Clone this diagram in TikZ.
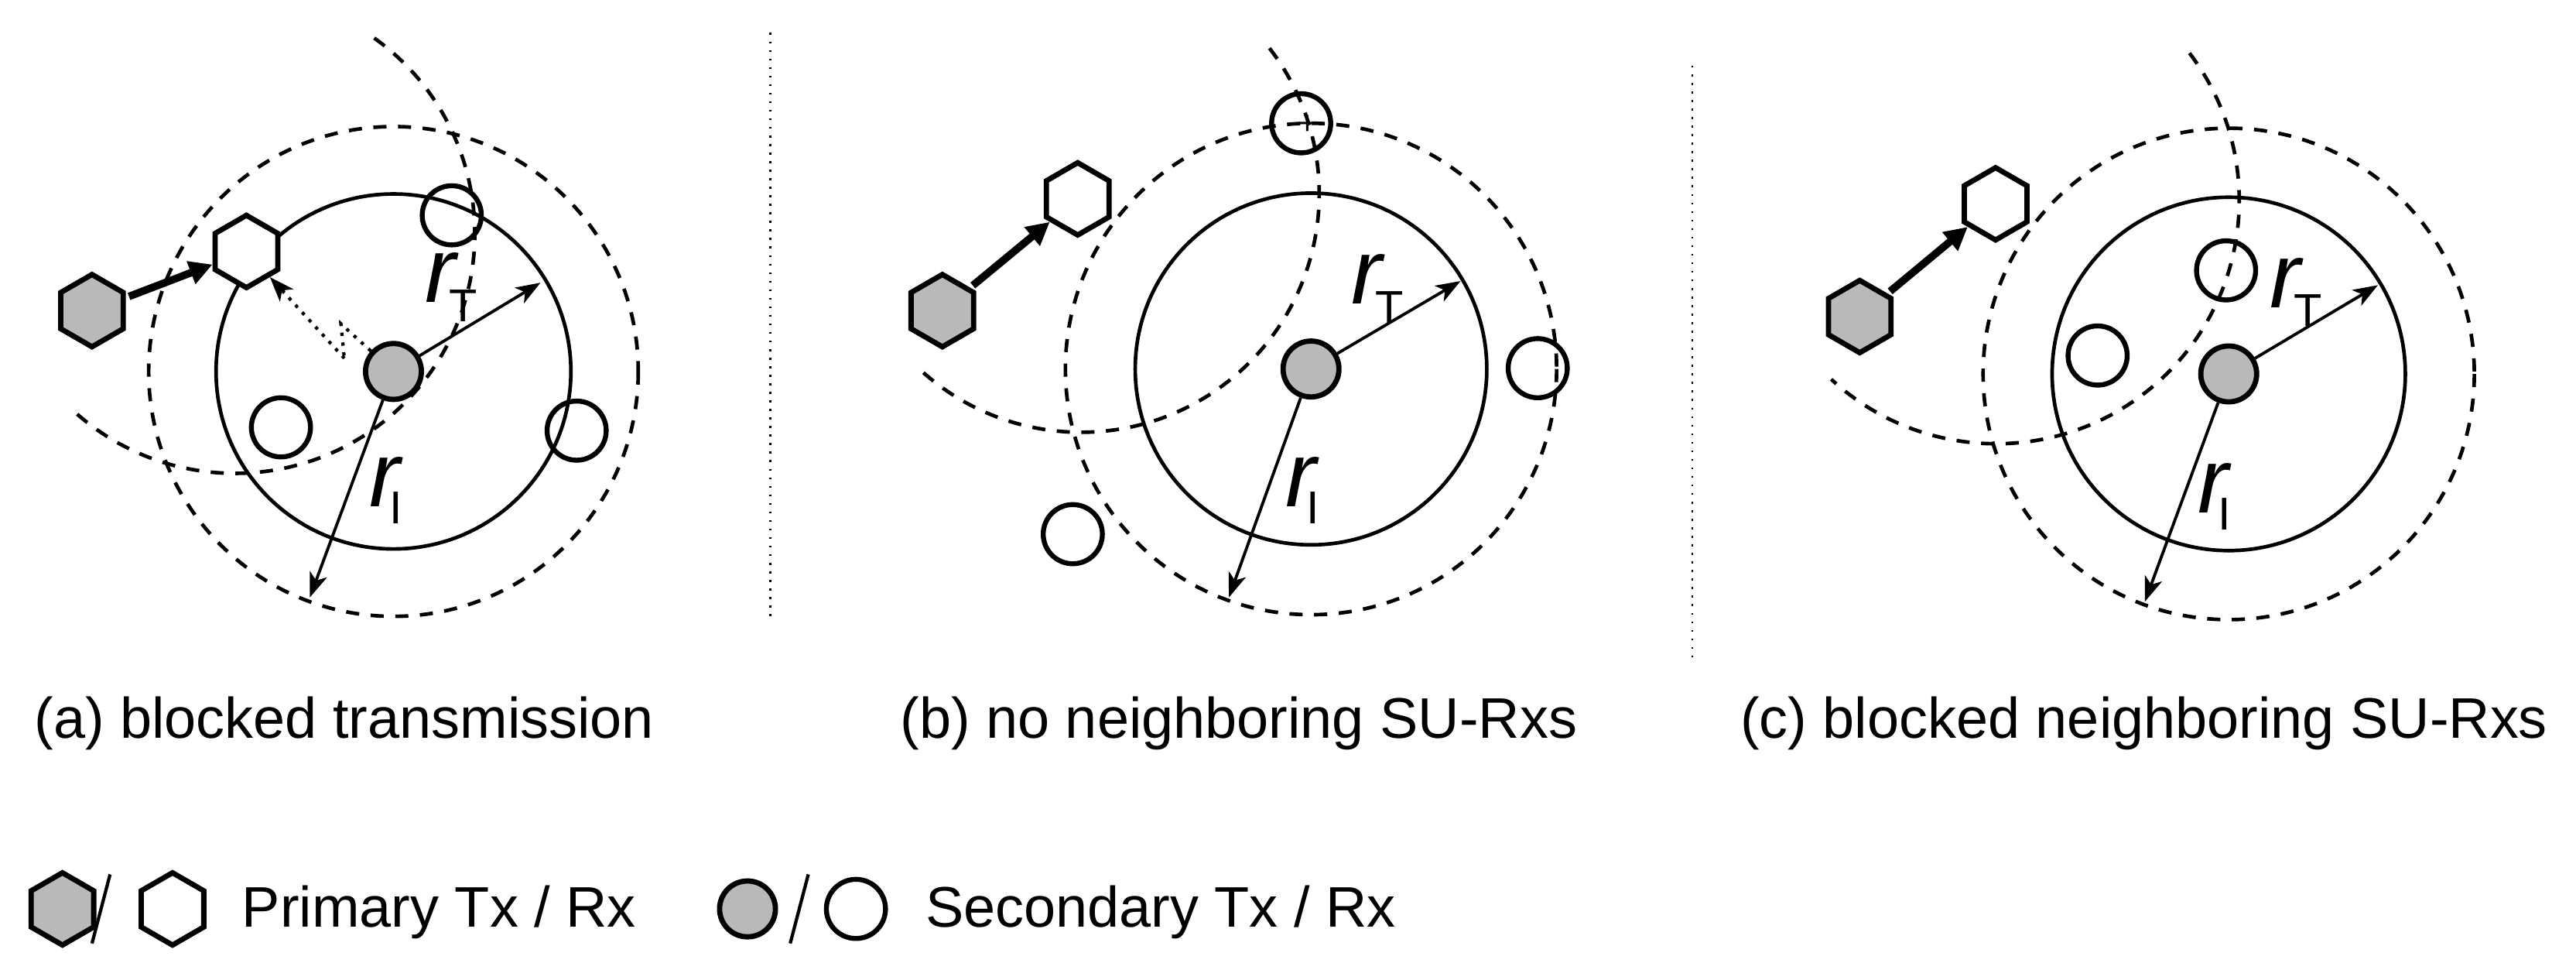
\documentclass[tikz,border=0pt]{standalone}
\usepackage{fontspec}
\setmainfont{Liberation Sans}
\usetikzlibrary{shapes.geometric,arrows.meta}
\begin{document}
\begin{tikzpicture}[x=0.5pt,y=-0.5pt,
  hexa/.style={regular polygon,regular polygon sides=6,shape border rotate=30,minimum size=22pt,inner sep=0pt,draw,line width=1.6pt},
  ptx/.style={hexa,fill=gray!95!black!52},
  prx/.style={hexa,fill=white},
  stx/.style={circle,draw,line width=1.6pt,fill=gray!95!black!52,minimum size=17pt,inner sep=0pt},
  srx/.style={circle,draw,line width=1.5pt,minimum size=18pt,inner sep=0pt},
  ring/.style={line width=1.1pt},
  dring/.style={line width=1.1pt,dash pattern=on 4pt off 3.5pt},
  heavy/.style={line width=2.3pt,-{Triangle[length=7pt,width=7pt]},shorten <=1pt},
  rad/.style={line width=0.9pt,-{Stealth[length=7.5pt,width=5.5pt,inset=2pt]}},
  captxt/.style={font=\fontsize{17.4}{20}\selectfont},
  rl/.style={font=\fontsize{28}{30}\selectfont\itshape,inner sep=0pt},
  sl/.style={font=\fontsize{14}{16}\selectfont,inner sep=0pt},
  sep/.style={line width=0.6pt,dotted}]
\useasboundingbox (0,0) rectangle (1568,590);
% dividers
\coordinate (d1a) at (469,20); \coordinate (d1b) at (469,378);
\coordinate (d2a) at (1030,40); \coordinate (d2b) at (1030,400);
\draw[sep] (d1a) -- (d1b);
\draw[sep] (d2a) -- (d2b);

% ---------------- panel (a)
\coordinate (ca) at (239.5,226);
\draw[ring] (ca) circle[radius=108];
\draw[dring] (ca) circle[radius=149];
\coordinate (aca) at (143,142);
\draw[dring] (aca) ++(-54.5:146) arc[start angle=-54.5,end angle=132,radius=146];
\node[stx] (atx) at (ca) {};
\node[ptx] (aptx) at (56,189) {};
\node[prx] (aprx) at (150,153) {};
\node[srx] (ar1) at (275,131) {};
\node[srx] (ar2) at (171,260) {};
\node[srx] (ar3) at (351,262) {};
\draw[heavy] (aptx) -- (aprx);
\coordinate (az1) at (207.5,197); \coordinate (az2) at (209.6,218);
\draw[line width=1pt,dotted] (atx) -- (az1) -- (az2);
\draw[line width=1pt,dotted,-{Stealth[length=7.5pt,width=5.5pt,inset=2pt]}] (az2) -- (aprx);
\coordinate (aT) at (329,172); \coordinate (aI) at (188.6,363.5);
\draw[rad] (atx) -- (aT);
\draw[rad] (atx) -- (aI);
\node[rl] (arT) at (268,169) {r};
\node[sl] (asT) at (282,186) {T};
\node[rl] (arI) at (234,293) {r};
\node[sl] (asI) at (241,309) {I};
\node[captxt] (capa) at (209.5,440) {(a) blocked transmission};

% ---------------- panel (b)
\coordinate (cb) at (798,224.5);
\draw[ring] (cb) circle[radius=107];
\draw[dring] (cb) circle[radius=149.5];
\coordinate (bca) at (658,118);
\draw[dring] (bca) ++(-37.7:145) arc[start angle=-37.7,end angle=134,radius=145];
\node[stx] (btx) at (cb) {};
\node[ptx] (bptx) at (573.6,189) {};
\node[prx] (bprx) at (656,121) {};
\node[srx] (br1) at (792,75) {};
\node[srx] (br2) at (936,224) {};
\node[srx] (br3) at (653,325) {};
\node[font=\fontsize{10}{10}\selectfont,inner sep=0pt] (bplus) at (796,76) {+};
\draw[heavy] (bptx) -- (bprx);
\coordinate (bT) at (889,171); \coordinate (bI) at (748,363.5);
\draw[rad] (btx) -- (bT);
\draw[rad] (btx) -- (bI);
\node[rl] (brT) at (832,170) {r};
\node[sl] (bsT) at (846,187) {T};
\node[rl] (brI) at (792,293) {r};
\node[sl] (bsI) at (799,309) {I};
\node[captxt] (capb) at (754,440) {(b) no neighboring SU-Rxs};

% ---------------- panel (c)
\coordinate (cc) at (1356.6,227.5);
\draw[ring] (cc) circle[radius=107.5];
\draw[dring] (cc) circle[radius=149.5];
\coordinate (cca) at (1215,122);
\draw[dring] (cca) ++(-37.3:148) arc[start angle=-37.3,end angle=132.7,radius=148];
\node[stx] (ctx) at (cc) {};
\node[ptx] (cptx) at (1132,192.6) {};
\node[prx] (cprx) at (1214.7,124) {};
\node[srx] (cr1) at (1355,164.5) {};
\node[srx] (cr2) at (1276.8,216.3) {};
\draw[heavy] (cptx) -- (cprx);
\coordinate (cT) at (1447.4,173.5); \coordinate (cI) at (1305.6,366);
\draw[rad] (ctx) -- (cT);
\draw[rad] (ctx) -- (cI);
\node[rl] (crT) at (1391,172) {r};
\node[sl] (csT) at (1405,189) {T};
\node[rl] (crI) at (1347,297) {r};
\node[sl] (csI) at (1354,313) {I};
\node[captxt] (capc) at (1305,440) {(c) blocked neighboring SU-Rxs};

% ---------------- legend
\node[ptx] (lptx) at (38,553) {};
\node[prx] (lprx) at (105,553) {};
\coordinate (ls1a) at (67,532); \coordinate (ls1b) at (56,574);
\draw[line width=1pt] (ls1a) -- (ls1b);
\node[captxt,anchor=west,inner sep=0pt] (lp) at (147,555) {Primary Tx / Rx};
\node[stx] (lstx) at (455,553) {};
\node[srx] (lsrx) at (521,553) {};
\coordinate (ls2a) at (492,532); \coordinate (ls2b) at (481,574);
\draw[line width=1pt] (ls2a) -- (ls2b);
\node[captxt,anchor=west,inner sep=0pt] (ls) at (563,555) {Secondary Tx / Rx};
\end{tikzpicture}
\end{document}
